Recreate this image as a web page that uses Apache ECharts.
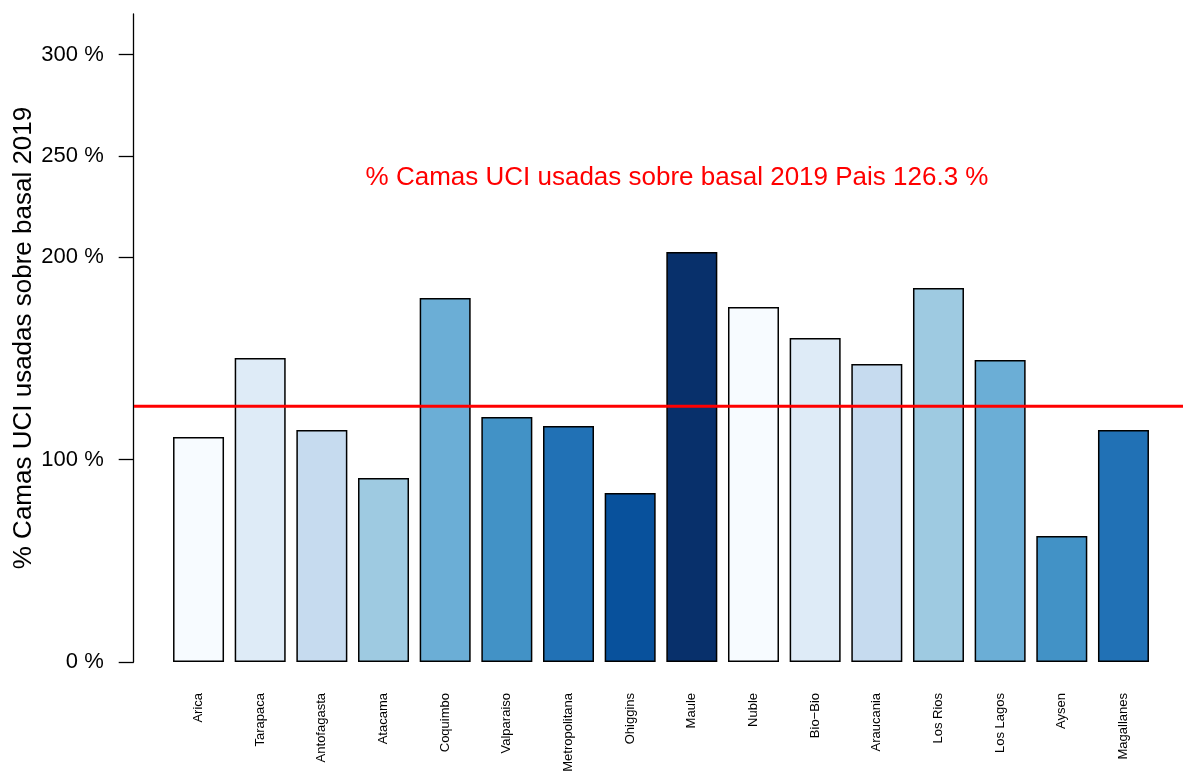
<!DOCTYPE html>
<html>
<head>
<meta charset="utf-8">
<script src="https://cdn.jsdelivr.net/npm/echarts@6/dist/echarts.min.js"></script>
<style>
  html, body { margin: 0; padding: 0; background: #fff; }
  #chart { width: 1183px; height: 773px; }
</style>
</head>
<body>
<div id="chart"></div>
<script>
// regiones y % de camas UCI usadas sobre basal 2019
const regiones = ['Arica', 'Tarapaca', 'Antofagasta', 'Atacama', 'Coquimbo', 'Valparaiso',
  'Metropolitana', 'Ohiggins', 'Maule', 'Nuble', 'Bio\u2212Bio', 'Araucania', 'Los Rios',
  'Los Lagos', 'Aysen', 'Magallanes']
const usoUci = [111.1, 150.1, 114.6, 90.9, 179.8, 121.0, 116.5, 83.5, 202.5, 175.3, 160.0,
  147.2, 184.7, 149.1, 62.2, 114.6]
const pais = 126.3
const yTicks = [0, 100, 200, 250, 300]
const colores = ['#F7FBFF', '#DEEBF7', '#C6DBEF', '#9ECAE1', '#6BAED6', '#4292C6', '#2171B5',
  '#08519C', '#08306B']

const font = 'Liberation Sans, Arial, sans-serif'
const chart = echarts.init(document.getElementById('chart'))

const option = {
  animation: false,
  grid: [
    { left: 167.7, right: 28.7, top: 14, bottom: 111, outerBoundsMode: 'none', containLabel: false },
    { left: 134, right: 0, top: 14, bottom: 111, outerBoundsMode: 'none', containLabel: false }
  ],
  xAxis: [
    {
      type: 'category',
      gridIndex: 0,
      data: regiones,
      axisLine: { show: false },
      axisTick: { show: false },
      axisLabel: {
        rotate: 90,
        margin: 31,
        fontSize: 13,
        color: '#000',
        fontFamily: font,
        interval: 0
      }
    },
    { type: 'value', gridIndex: 1, min: 0, max: 1, show: false }
  ],
  yAxis: [
    {
      type: 'value',
      gridIndex: 0,
      min: 0,
      max: 320,
      offset: 34,
      name: '% Camas UCI usadas sobre basal 2019',
      nameLocation: 'middle',
      nameGap: 97,
      nameMoveOverlap: false,
      nameTextStyle: { fontSize: 26, color: '#000', fontFamily: font },
      splitLine: { show: false },
      axisLine: { show: true, lineStyle: { color: '#000', width: 1.3 } },
      axisTick: {
        show: true,
        length: 15,
        customValues: yTicks,
        lineStyle: { color: '#000', width: 1.3 }
      },
      axisLabel: {
        customValues: yTicks,
        margin: 30,
        fontSize: 22,
        color: '#000',
        fontFamily: font,
        formatter: v => v + ' %'
      }
    },
    { type: 'value', gridIndex: 1, min: 0, max: 320, show: false }
  ],
  graphic: [
    {
      type: 'text',
      x: 677,
      y: 178,
      style: {
        text: '% Camas UCI usadas sobre basal 2019 Pais ' + pais + ' %',
        fill: '#ff0000',
        font: '26px ' + font,
        textAlign: 'center',
        textVerticalAlign: 'middle'
      }
    }
  ],
  series: [
    {
      type: 'bar',
      xAxisIndex: 0,
      yAxisIndex: 0,
      barWidth: 51,
      data: usoUci.map((v, i) => ({
        value: v,
        itemStyle: { color: colores[i % colores.length] }
      })),
      itemStyle: { borderColor: '#000', borderWidth: 1.5 }
    },
    {
      type: 'line',
      xAxisIndex: 1,
      yAxisIndex: 1,
      symbol: 'none',
      z: 5,
      data: [[0, pais], [1, pais]],
      lineStyle: { color: '#ff0000', width: 3 }
    }
  ]
}

chart.setOption(option)
window.addEventListener('resize', () => chart.resize())
</script>
</body>
</html>
